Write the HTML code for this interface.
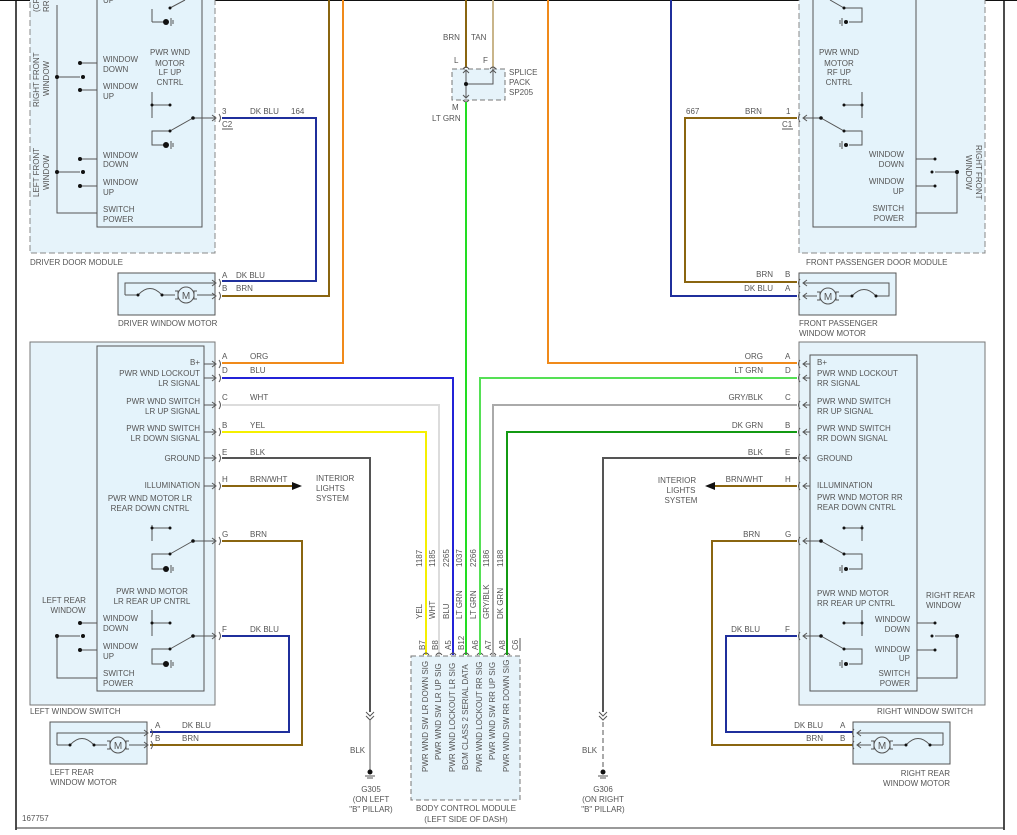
<!DOCTYPE html>
<html><head><meta charset="utf-8"><style>
html,body{margin:0;padding:0;background:#fff}
svg{display:block}
text{font-family:"Liberation Sans",sans-serif;font-size:8px;fill:#555}
.r{text-anchor:end}
.m{text-anchor:middle}
.k{stroke:#555;fill:none;stroke-width:1}
.w{fill:none;stroke-width:2}
</style></head><body>
<svg width="1017" height="835" viewBox="0 0 1017 835" xmlns="http://www.w3.org/2000/svg">
<!-- frame -->
<line x1="16" y1="0" x2="16" y2="830" stroke="#111" stroke-width="1.5"/>
<line x1="1004" y1="0" x2="1004" y2="830" stroke="#111" stroke-width="1.5"/>
<line x1="16" y1="828" x2="1004" y2="828" stroke="#333" stroke-width="1"/>
<line x1="0" y1="0.5" x2="1017" y2="0.5" stroke="#111" stroke-width="1"/>

<!-- ===== Driver door module ===== -->
<rect x="30" y="-5" width="185" height="258" fill="#e6f3fa" stroke="#888" stroke-dasharray="6,3"/>
<rect x="97" y="-5" width="105" height="232" fill="#e4f3fb" stroke="#555"/>
<text x="30" y="265">DRIVER DOOR MODULE</text>
<text transform="translate(39,107) rotate(-90)">RIGHT FRONT</text>
<text transform="translate(49,96) rotate(-90)">WINDOW</text>
<text transform="translate(39,197) rotate(-90)">LEFT FRONT</text>
<text transform="translate(49,190) rotate(-90)">WINDOW</text>
<text transform="translate(39,12) rotate(-90)">(CR</text>
<text transform="translate(49,12) rotate(-90)">RR</text>
<path class="k" d="M57,5 V213 H97 M80,63 H97 M80,90 H97 M80,159 H97 M80,186 H97 M57,77 H80 M57,172 H80"/>
<g fill="#111"><circle cx="80" cy="63" r="2"/><circle cx="80" cy="90" r="2"/><circle cx="57" cy="77" r="2"/><circle cx="83" cy="77" r="2"/>
<circle cx="80" cy="159" r="2"/><circle cx="80" cy="186" r="2"/><circle cx="57" cy="172" r="2"/><circle cx="83" cy="172" r="2"/></g>
<text x="103" y="62">WINDOW</text><text x="103" y="72">DOWN</text>
<text x="103" y="89">WINDOW</text><text x="103" y="99">UP</text>
<text x="103" y="158">WINDOW</text><text x="103" y="167">DOWN</text>
<text x="103" y="185">WINDOW</text><text x="103" y="195">UP</text>
<text x="103" y="212">SWITCH</text><text x="103" y="222">POWER</text>
<text x="103" y="3">UP</text>
<text class="m" x="170" y="55">PWR WND</text><text class="m" x="170" y="66">MOTOR</text><text class="m" x="170" y="75">LF UP</text><text class="m" x="170" y="85">CNTRL</text>
<!-- switch LF -->
<path class="k" d="M152,92 V118 M152,105 H170 M193,118 L170,131 M193,118 H215 M170,131 H152 V145 H165 M152,22 V9 M152,22 H165 M170,8 L185,0"/>
<g fill="#111"><circle cx="152" cy="105" r="1.5"/><circle cx="170" cy="105" r="1.5"/><circle cx="193" cy="118" r="1.8"/><circle cx="170" cy="131" r="1.5"/><circle cx="166" cy="145" r="3"/><circle cx="166" cy="22" r="3"/><circle cx="170" cy="8" r="1.5"/></g>
<path class="k" d="M171,141 V149 M173,143 V147 M171,18 V26 M173,20 V24"/>
<path class="k" d="M212,115 L216,118 L212,121 M219,114 Q222,118 219,122"/>
<text x="222" y="114">3</text><text x="222" y="127">C2</text><line x1="222" y1="129" x2="233" y2="129" stroke="#555"/>
<text x="250" y="114">DK BLU</text><text x="291" y="114">164</text>
<path class="w" stroke="#1f2f9c" d="M222,118 H316 V281 H222"/>
<path class="w" stroke="#8a6510" d="M329,0 V296 H222"/>
<path class="w" stroke="#f08a1a" d="M343,0 V363 H222"/>

<!-- driver window motor -->
<rect x="118" y="273" width="97" height="42" fill="#e4f3fb" stroke="#555"/>
<text x="118" y="326">DRIVER WINDOW MOTOR</text>
<path class="k" d="M125,295 V283 H215 M125,295 H138 M138,295 Q150,282 162,295 M162,295 H175 M197,295 H215 M175,291 H178 V299 H175 M197,291 H194 V299 H197"/>
<circle cx="186" cy="295" r="8" fill="#e4f3fb" stroke="#555"/><text class="m" x="186" y="299" style="font-size:10px">M</text>
<g fill="#111"><circle cx="138" cy="295" r="1.5"/><circle cx="162" cy="295" r="1.5"/></g>
<path class="k" d="M212,280 L216,283 L212,286 M219,279 Q222,283 219,287 M212,293 L216,296 L212,299 M219,292 Q222,296 219,300"/>
<text x="222" y="278">A</text><text x="236" y="278">DK BLU</text><text x="222" y="291">B</text><text x="236" y="291">BRN</text>

<!-- ===== Left window switch ===== -->
<rect x="30" y="342" width="185" height="363" fill="#e6f3fa" stroke="#777"/>
<rect x="97" y="346" width="107" height="345" fill="#e4f3fb" stroke="#555"/>
<text x="30" y="714">LEFT WINDOW SWITCH</text>
<g class="r">
<text class="r" x="200" y="365">B+</text>
<text class="r" x="200" y="376">PWR WND LOCKOUT</text><text class="r" x="200" y="386">LR SIGNAL</text>
<text class="r" x="200" y="404">PWR WND SWITCH</text><text class="r" x="200" y="414">LR UP SIGNAL</text>
<text class="r" x="200" y="431">PWR WND SWITCH</text><text class="r" x="200" y="441">LR DOWN SIGNAL</text>
<text class="r" x="200" y="461">GROUND</text>
<text class="r" x="200" y="488">ILLUMINATION</text>
</g>
<text class="m" x="150" y="501">PWR WND MOTOR LR</text><text class="m" x="150" y="511">REAR DOWN CNTRL</text>
<text class="m" x="152" y="594">PWR WND MOTOR</text><text class="m" x="152" y="604">LR REAR UP CNTRL</text>
<text class="m" x="64" y="603">LEFT REAR</text><text class="m" x="68" y="613">WINDOW</text>
<text x="103" y="621">WINDOW</text><text x="103" y="631">DOWN</text>
<text x="103" y="649">WINDOW</text><text x="103" y="659">UP</text>
<text x="103" y="676">SWITCH</text><text x="103" y="686">POWER</text>
<path class="k" d="M204,364 H215 M204,378 H215 M204,405 H215 M204,432 H215 M204,458 H215 M204,486 H215"/>
<g class="k">
<path d="M152,525 V541 M152,528 H170 M193,541 L170,554 M193,541 H215 M170,554 H152 V569 H165"/>
<path d="M152,610 V636 M152,623 H170 M193,636 L170,649 M193,636 H215 M170,649 H152 V664 H165"/>
<path d="M57,636 V678 H97 M80,623 H97 M80,650 H97 M57,636 H80"/>
<path d="M171,565 V573 M173,567 V571 M171,660 V668 M173,662 V666"/>
</g>
<g fill="#111"><circle cx="152" cy="528" r="1.5"/><circle cx="170" cy="528" r="1.5"/><circle cx="193" cy="541" r="1.8"/><circle cx="170" cy="554" r="1.5"/><circle cx="166" cy="569" r="3"/>
<circle cx="152" cy="623" r="1.5"/><circle cx="170" cy="623" r="1.5"/><circle cx="193" cy="636" r="1.8"/><circle cx="170" cy="649" r="1.5"/><circle cx="166" cy="664" r="3"/>
<circle cx="80" cy="623" r="2"/><circle cx="80" cy="650" r="2"/><circle cx="57" cy="636" r="2"/><circle cx="83" cy="636" r="2"/></g>
<g class="k">
<path d="M212,361 L216,364 L212,367 M219,360 Q222,364 219,368"/>
<path d="M212,375 L216,378 L212,381 M219,374 Q222,378 219,382"/>
<path d="M212,402 L216,405 L212,408 M219,401 Q222,405 219,409"/>
<path d="M212,429 L216,432 L212,435 M219,428 Q222,432 219,436"/>
<path d="M212,455 L216,458 L212,461 M219,454 Q222,458 219,462"/>
<path d="M212,483 L216,486 L212,489 M219,482 Q222,486 219,490"/>
<path d="M212,538 L216,541 L212,544 M219,537 Q222,541 219,545"/>
<path d="M212,633 L216,636 L212,639 M219,632 Q222,636 219,640"/>
</g>
<text x="222" y="359">A</text><text x="250" y="359">ORG</text>
<text x="222" y="373">D</text><text x="250" y="373">BLU</text>
<text x="222" y="400">C</text><text x="250" y="400">WHT</text>
<text x="222" y="428">B</text><text x="250" y="428">YEL</text>
<text x="222" y="455">E</text><text x="250" y="455">BLK</text>
<text x="222" y="482">H</text><text x="250" y="482">BRN/WHT</text>
<text x="222" y="537">G</text><text x="250" y="537">BRN</text>
<text x="222" y="632">F</text><text x="250" y="632">DK BLU</text>
<path class="w" stroke="#2323d8" d="M222,378 H453 V655"/>
<path class="w" stroke="#dcdcdc" d="M222,405 H439 V655"/>
<path class="w" stroke="#f5f000" d="M222,432 H426 V655"/>
<path class="w" stroke="#555" d="M222,458 H370 V712"/>
<path class="w" stroke="#8a6510" d="M222,486 H292"/>
<path d="M292,482 L302,486 L292,490 Z" fill="#111"/>
<text x="316" y="481">INTERIOR</text><text x="316" y="491">LIGHTS</text><text x="316" y="501">SYSTEM</text>
<path class="w" stroke="#8a6510" d="M222,541 H302 V745 H150"/>
<path class="w" stroke="#1f2f9c" d="M222,636 H289 V732 H150"/>
<!-- G305 -->
<path class="k" d="M366,712 L370,716 L374,712 M366,716 L370,720 L374,716 M370,720 V770" stroke-dasharray="0"/>
<line x1="370" y1="722" x2="370" y2="768" stroke="#555" stroke-dasharray="5,3"/>
<text x="350" y="753">BLK</text>
<circle cx="370" cy="772" r="2.5" fill="#111"/><path class="k" d="M365,776 H375 M367,778 H373"/>
<text class="m" x="371" y="792">G305</text><text class="m" x="371" y="802">(ON LEFT</text><text class="m" x="371" y="812">"B" PILLAR)</text>

<!-- left rear motor -->
<rect x="50" y="722" width="97" height="42" fill="#e4f3fb" stroke="#555"/>
<text x="50" y="775">LEFT REAR</text><text x="50" y="785">WINDOW MOTOR</text>
<path class="k" d="M57,745 V733 H147 M57,745 H70 M70,745 Q82,732 94,745 M94,745 H107 M129,745 H147 M107,741 H110 V749 H107 M129,741 H126 V749 H129"/>
<circle cx="118" cy="745" r="8" fill="#e4f3fb" stroke="#555"/><text class="m" x="118" y="749" style="font-size:10px">M</text>
<g fill="#111"><circle cx="70" cy="745" r="1.5"/><circle cx="94" cy="745" r="1.5"/></g>
<path class="k" d="M144,730 L148,733 L144,736 M151,729 Q154,733 151,737 M144,742 L148,745 L144,748 M151,741 Q154,745 151,749"/>
<text x="155" y="728">A</text><text x="182" y="728">DK BLU</text><text x="155" y="741">B</text><text x="182" y="741">BRN</text>

<!-- ===== Splice pack ===== -->
<path class="w" stroke="#8a6510" d="M466,0 V68"/>
<path class="w" stroke="#c9b58a" d="M493,0 V68"/>
<text x="443" y="40">BRN</text><text x="471" y="40">TAN</text>
<text x="454" y="63">L</text><text x="483" y="63">F</text>
<rect x="452" y="69" width="53" height="31" fill="#e6f3fa" stroke="#777" stroke-dasharray="5,3"/>
<path class="k" d="M466,70 V98 M466,84 H493 V70 M463,73 L466,70 L469,73 M490,73 L493,70 L496,73 M463,95 L466,98 L469,95 M463,69 Q466,65 469,69 M490,69 Q493,65 496,69 M463,100 Q466,104 469,100"/>
<circle cx="466" cy="84" r="2" fill="#111"/>
<text x="509" y="75">SPLICE</text><text x="509" y="85">PACK</text><text x="509" y="95">SP205</text>
<text x="452" y="110">M</text><text x="432" y="121">LT GRN</text>
<path class="w" stroke="#22dd22" d="M466,102 V655"/>

<!-- ===== BCM ===== -->
<g class="k">
<path d="M423,655 Q426,651 429,655 M436,655 Q439,651 442,655 M450,655 Q453,651 456,655 M463,655 Q466,651 469,655 M477,655 Q480,651 483,655 M490,655 Q493,651 496,655 M504,655 Q507,651 510,655"/>
</g>
<g>
<text transform="translate(425,650) rotate(-90)">B7</text>
<text transform="translate(438,650) rotate(-90)">B8</text>
<text transform="translate(451,650) rotate(-90)">A5</text>
<text transform="translate(464,650) rotate(-90)">B12</text>
<text transform="translate(478,650) rotate(-90)">A6</text>
<text transform="translate(491,650) rotate(-90)">A7</text>
<text transform="translate(505,650) rotate(-90)">A8</text>
<text transform="translate(518,650) rotate(-90)">C6</text>
<text transform="translate(422,619) rotate(-90)">YEL</text>
<text transform="translate(435,619) rotate(-90)">WHT</text>
<text transform="translate(449,619) rotate(-90)">BLU</text>
<text transform="translate(462,619) rotate(-90)">LT GRN</text>
<text transform="translate(476,619) rotate(-90)">LT GRN</text>
<text transform="translate(489,619) rotate(-90)">GRY/BLK</text>
<text transform="translate(503,619) rotate(-90)">DK GRN</text>
<text transform="translate(422,567) rotate(-90)">1187</text>
<text transform="translate(435,567) rotate(-90)">1185</text>
<text transform="translate(449,567) rotate(-90)">2265</text>
<text transform="translate(462,567) rotate(-90)">1037</text>
<text transform="translate(476,567) rotate(-90)">2266</text>
<text transform="translate(489,567) rotate(-90)">1186</text>
<text transform="translate(503,567) rotate(-90)">1188</text>
</g>
<line x1="520" y1="651" x2="520" y2="638" stroke="#555"/>
<rect x="411" y="656" width="109" height="144" fill="#e6f3fa" stroke="#777" stroke-dasharray="5,3"/>
<g>
<text transform="translate(428,772) rotate(-90)">PWR WND SW LR DOWN SIG</text>
<text transform="translate(441,760) rotate(-90)">PWR WND SW LR UP SIG</text>
<text transform="translate(455,772) rotate(-90)">PWR WND LOCKOUT LR SIG</text>
<text transform="translate(468,770) rotate(-90)">BCM CLASS 2 SERIAL DATA</text>
<text transform="translate(482,772) rotate(-90)">PWR WND LOCKOUT RR SIG</text>
<text transform="translate(495,760) rotate(-90)">PWR WND SW RR UP SIG</text>
<text transform="translate(509,772) rotate(-90)">PWR WND SW RR DOWN SIG</text>
</g>
<text class="m" x="466" y="811">BODY CONTROL MODULE</text><text class="m" x="466" y="822">(LEFT SIDE OF DASH)</text>
<text x="22" y="821">167757</text>

<!-- ===== Right side wires ===== -->
<path class="w" stroke="#f08a1a" d="M548,0 V363 H797"/>
<path class="w" stroke="#55e055" d="M480,655 V378 H797"/>
<path class="w" stroke="#aaaaaa" d="M493,655 V405 H797"/>
<path class="w" stroke="#139a13" d="M507,655 V432 H797"/>
<path class="w" stroke="#555" d="M603,712 V458 H797"/>
<path class="w" stroke="#8a6510" d="M797,486 H715"/>
<path d="M715,482 L705,486 L715,490 Z" fill="#111"/>
<text class="m" x="677" y="483">INTERIOR</text><text class="m" x="681" y="493">LIGHTS</text><text class="m" x="681" y="503">SYSTEM</text>
<path class="w" stroke="#8a6510" d="M797,541 H712 V745 H853"/>
<path class="w" stroke="#1f2f9c" d="M797,636 H726 V732 H853"/>
<text class="r" x="763" y="359">ORG</text><text x="785" y="359">A</text>
<text class="r" x="763" y="373">LT GRN</text><text x="785" y="373">D</text>
<text class="r" x="763" y="400">GRY/BLK</text><text x="785" y="400">C</text>
<text class="r" x="763" y="428">DK GRN</text><text x="785" y="428">B</text>
<text class="r" x="763" y="455">BLK</text><text x="785" y="455">E</text>
<text class="r" x="763" y="482">BRN/WHT</text><text x="785" y="482">H</text>
<text class="r" x="760" y="537">BRN</text><text x="785" y="537">G</text>
<text class="r" x="760" y="632">DK BLU</text><text x="785" y="632">F</text>
<!-- G306 -->
<path class="k" d="M599,712 L603,716 L607,712 M599,716 L603,720 L607,716"/>
<line x1="603" y1="722" x2="603" y2="768" stroke="#555" stroke-dasharray="5,3"/>
<text x="582" y="753">BLK</text>
<circle cx="603" cy="772" r="2.5" fill="#111"/><path class="k" d="M598,776 H608 M600,778 H606"/>
<text class="m" x="603" y="792">G306</text><text class="m" x="603" y="802">(ON RIGHT</text><text class="m" x="603" y="812">"B" PILLAR)</text>

<!-- ===== Front passenger door module ===== -->
<rect x="799" y="-5" width="186" height="258" fill="#e6f3fa" stroke="#888" stroke-dasharray="6,3"/>
<rect x="813" y="-5" width="103" height="232" fill="#e4f3fb" stroke="#555"/>
<text x="806" y="265">FRONT PASSENGER DOOR MODULE</text>
<text transform="translate(976,145) rotate(90)">RIGHT FRONT</text>
<text transform="translate(966,155) rotate(90)">WINDOW</text>
<text class="m" x="839" y="55">PWR WND</text><text class="m" x="839" y="66">MOTOR</text><text class="m" x="839" y="75">RF UP</text><text class="m" x="839" y="85">CNTRL</text>
<text class="r" x="904" y="157">WINDOW</text><text class="r" x="904" y="167">DOWN</text>
<text class="r" x="904" y="184">WINDOW</text><text class="r" x="904" y="194">UP</text>
<text class="r" x="904" y="211">SWITCH</text><text class="r" x="904" y="221">POWER</text>
<path class="k" d="M862,92 V118 M844,105 H862 M821,118 L844,131 M821,118 H803 M844,131 H862 V145 H849 M916,159 H935 M916,186 H935 M916,213 H957 V172 H935 M844,8 L830,0 M844,8 H862 V22 H849"/>
<g fill="#111"><circle cx="844" cy="105" r="1.5"/><circle cx="862" cy="105" r="1.5"/><circle cx="821" cy="118" r="1.8"/><circle cx="844" cy="131" r="1.5"/><circle cx="846" cy="145" r="2"/><circle cx="846" cy="22" r="2"/><circle cx="844" cy="8" r="1.5"/>
<circle cx="935" cy="159" r="1.5"/><circle cx="935" cy="186" r="1.5"/><circle cx="957" cy="172" r="2"/><circle cx="932" cy="172" r="1.5"/></g>
<path class="k" d="M842,141 V149 M840,143 V147 M842,18 V26 M840,20 V24"/>
<path class="k" d="M807,115 L803,118 L807,121 M800,114 Q797,118 800,122"/>
<text x="786" y="114">1</text><text x="782" y="127">C1</text><line x1="782" y1="129" x2="793" y2="129" stroke="#555"/>
<text x="686" y="114">667</text><text x="745" y="114">BRN</text>
<path class="w" stroke="#8a6510" d="M797,118 H685 V282 H797"/>
<path class="w" stroke="#1f2f9c" d="M671,0 V296 H797"/>
<!-- FP motor -->
<rect x="799" y="273" width="97" height="42" fill="#e4f3fb" stroke="#555"/>
<text x="799" y="326">FRONT PASSENGER</text><text x="799" y="336">WINDOW MOTOR</text>
<path class="k" d="M889,295 V283 H803 M803,296 H817 M839,296 H852 M852,296 Q864,283 876,296 M876,296 H889 V283 M817,292 H820 V300 H817 M839,292 H836 V300 H839"/>
<circle cx="828" cy="296" r="8" fill="#e4f3fb" stroke="#555"/><text class="m" x="828" y="300" style="font-size:10px">M</text>
<g fill="#111"><circle cx="852" cy="296" r="1.5"/><circle cx="876" cy="296" r="1.5"/></g>
<path class="k" d="M807,280 L803,283 L807,286 M800,279 Q797,283 800,287 M807,293 L803,296 L807,299 M800,292 Q797,296 800,300"/>
<text class="r" x="773" y="277">BRN</text><text x="785" y="277">B</text>
<text class="r" x="773" y="291">DK BLU</text><text x="785" y="291">A</text>

<!-- ===== Right window switch ===== -->
<rect x="799" y="342" width="186" height="363" fill="#e6f3fa" stroke="#777"/>
<rect x="810" y="355" width="107" height="336" fill="#e4f3fb" stroke="#555"/>
<text x="877" y="714">RIGHT WINDOW SWITCH</text>
<text x="817" y="365">B+</text>
<text x="817" y="376">PWR WND LOCKOUT</text><text x="817" y="386">RR SIGNAL</text>
<text x="817" y="404">PWR WND SWITCH</text><text x="817" y="414">RR UP SIGNAL</text>
<text x="817" y="431">PWR WND SWITCH</text><text x="817" y="441">RR DOWN SIGNAL</text>
<text x="817" y="461">GROUND</text>
<text x="817" y="488">ILLUMINATION</text>
<text x="817" y="500">PWR WND MOTOR RR</text><text x="817" y="510">REAR DOWN CNTRL</text>
<text x="817" y="596">PWR WND MOTOR</text><text x="817" y="606">RR REAR UP CNTRL</text>
<text x="926" y="598">RIGHT REAR</text><text x="926" y="608">WINDOW</text>
<text class="r" x="910" y="622">WINDOW</text><text class="r" x="910" y="632">DOWN</text>
<text class="r" x="910" y="652">WINDOW</text><text class="r" x="910" y="661">UP</text>
<text class="r" x="910" y="676">SWITCH</text><text class="r" x="910" y="686">POWER</text>
<g class="k">
<path d="M803,364 H810 M803,378 H810 M803,405 H810 M803,432 H810 M803,458 H810 M803,486 H810"/>
<path d="M862,525 V541 M844,528 H862 M821,541 L844,554 M821,541 H803 M844,554 H862 V569 H849"/>
<path d="M862,610 V636 M844,623 H862 M821,636 L844,649 M821,636 H803 M844,649 H862 V664 H849"/>
<path d="M917,623 H935 M917,650 H935 M917,678 H957 V636 H935"/>
<path d="M842,565 V573 M840,567 V571 M842,660 V668 M840,662 V666"/>
</g>
<g fill="#111"><circle cx="844" cy="528" r="1.5"/><circle cx="862" cy="528" r="1.5"/><circle cx="821" cy="541" r="1.8"/><circle cx="844" cy="554" r="1.5"/><circle cx="846" cy="569" r="2"/>
<circle cx="844" cy="623" r="1.5"/><circle cx="862" cy="623" r="1.5"/><circle cx="821" cy="636" r="1.8"/><circle cx="844" cy="649" r="1.5"/><circle cx="846" cy="664" r="2"/>
<circle cx="935" cy="623" r="1.5"/><circle cx="935" cy="650" r="1.5"/><circle cx="957" cy="636" r="2"/><circle cx="932" cy="636" r="1.5"/></g>
<g class="k">
<path d="M807,361 L803,364 L807,367 M800,360 Q797,364 800,368"/>
<path d="M807,375 L803,378 L807,381 M800,374 Q797,378 800,382"/>
<path d="M807,402 L803,405 L807,408 M800,401 Q797,405 800,409"/>
<path d="M807,429 L803,432 L807,435 M800,428 Q797,432 800,436"/>
<path d="M807,455 L803,458 L807,461 M800,454 Q797,458 800,462"/>
<path d="M807,483 L803,486 L807,489 M800,482 Q797,486 800,490"/>
<path d="M807,538 L803,541 L807,544 M800,537 Q797,541 800,545"/>
<path d="M807,633 L803,636 L807,639 M800,632 Q797,636 800,640"/>
</g>
<!-- right rear motor -->
<rect x="853" y="722" width="97" height="42" fill="#e4f3fb" stroke="#555"/>
<text class="r" x="950" y="776">RIGHT REAR</text><text class="r" x="950" y="786">WINDOW MOTOR</text>
<path class="k" d="M943,745 V733 H857 M857,745 H871 M893,745 H906 M906,745 Q918,732 930,745 M930,745 H943 M871,741 H874 V749 H871 M893,741 H890 V749 H893"/>
<circle cx="882" cy="745" r="8" fill="#e4f3fb" stroke="#555"/><text class="m" x="882" y="749" style="font-size:10px">M</text>
<g fill="#111"><circle cx="906" cy="745" r="1.5"/><circle cx="930" cy="745" r="1.5"/></g>
<path class="k" d="M861,730 L857,733 L861,736 M854,729 Q851,733 854,737 M861,742 L857,745 L861,748 M854,741 Q851,745 854,749"/>
<text class="r" x="823" y="728">DK BLU</text><text x="840" y="728">A</text>
<text class="r" x="823" y="741">BRN</text><text x="840" y="741">B</text>
</svg>
</body></html>
